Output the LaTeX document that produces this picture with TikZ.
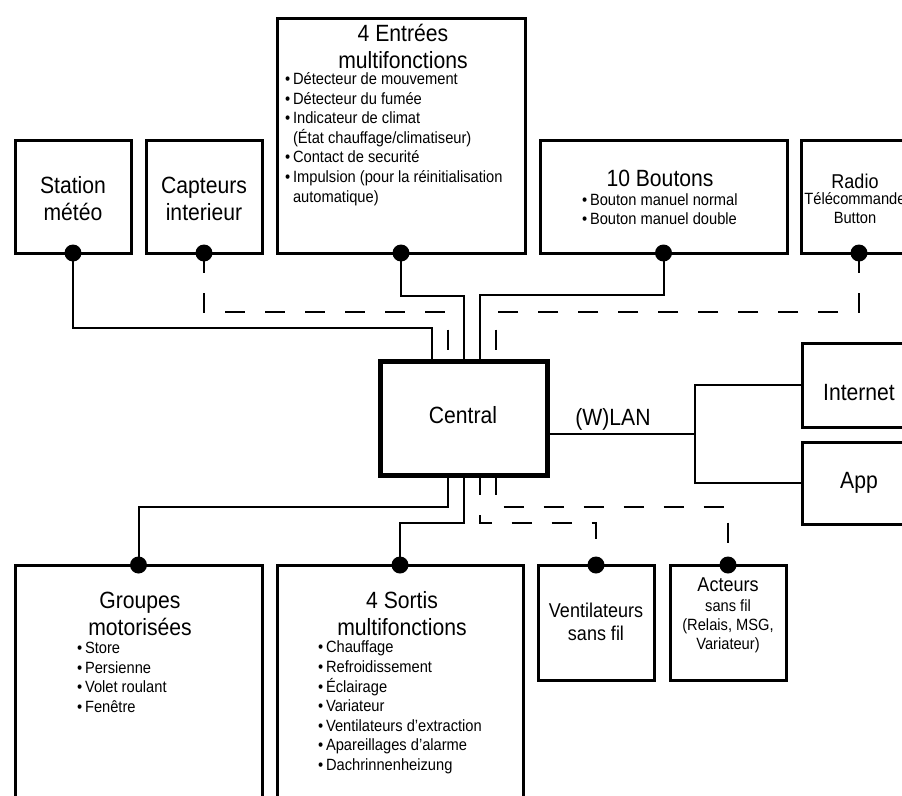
\documentclass[tikz,border=0pt]{standalone}
\usepackage{fontspec}
\setmainfont{Liberation Sans}[FakeStretch=0.9]
\usetikzlibrary{calc}

\newcommand{\blt}{\textbullet\,}
\newcommand{\bltgap}{\phantom{\textbullet\,}}

\tikzset{
  box/.style={draw, line width=3pt, inner sep=0pt, outer sep=0pt},
  link/.style={line width=2pt},
  wireless/.style={line width=2pt, dash pattern=on 20pt off 20pt},
  title/.style={align=center, inner sep=0pt, font=\fontsize{23.5}{27}\selectfont},
  midtitle/.style={align=center, inner sep=0pt, font=\fontsize{20}{23}\selectfont},
  small/.style={align=center, inner sep=0pt, font=\fontsize{16.3}{19}\selectfont},
  items/.style={align=left, inner sep=0pt, anchor=west, font=\fontsize{16.3}{19.6}\selectfont}
}

\begin{document}
\begin{tikzpicture}[x=1pt, y=-1pt]
	\useasboundingbox (0,0) rectangle (902,795);
	\clip (0,0) rectangle (902,795);

	% boxes
	\node[box, minimum width=116pt, minimum height=113pt] (sta) at (73,196.5) {};
	\node[box, minimum width=116pt, minimum height=113pt] (cap) at (204,196.5) {};
	\node[box, minimum width=248pt, minimum height=235pt] (ent) at (401,135.5) {};
	\node[box, minimum width=247pt, minimum height=113pt] (bou) at (663.5,196.5) {};
	\node[box, minimum width=116pt, minimum height=113pt] (rad) at (859,196.5) {};
	\node[box, line width=5pt, minimum width=167pt, minimum height=114pt] (cen) at (463.5,418) {};
	\node[box, minimum width=116pt, minimum height=84pt] (int) at (860,385) {};
	\node[box, minimum width=116pt, minimum height=82pt] (app) at (860,483) {};
	\node[box, minimum width=247pt, minimum height=235pt] (grp) at (138.5,682.5) {};
	\node[box, minimum width=246pt, minimum height=235pt] (sor) at (400,682.5) {};
	\node[box, minimum width=116pt, minimum height=115pt] (ven) at (596,622.5) {};
	\node[box, minimum width=116pt, minimum height=115pt] (act) at (728,622.5) {};

	% texts
	\node[title] (sta-t) at (73,198.5) {Station\\météo};
	\node[title] (cap-t) at (204,198.5) {Capteurs\\interieur};
	\node[title] (ent-t) at (403,46.5) {4 Entrées\\multifonctions};
	\node[items] (ent-l) at (285,139) {\blt Détecteur de mouvement\\
		\blt Détecteur du fumée\\
		\blt Indicateur de climat\\
		\bltgap(État chauffage/climatiseur)\\
		\blt Contact de securité\\
		\blt Impulsion (pour la réinitialisation\\
		\bltgap automatique)};
	\node[title] (bou-t) at (660,178) {10 Boutons};
	\node[items] (bou-l) at (582,209) {\blt Bouton manuel normal\\
		\blt Bouton manuel double};
	\node[midtitle] (rad-t) at (855,181) {Radio};
	\node[small] (rad-s) at (855,208) {Télécommande\\Button};
	\node[title] (cen-t) at (463,415) {Central};
	\node[title, anchor=south] (lan-t) at (613,431) {(W)LAN};
	\node[title] (int-t) at (859,393) {Internet};
	\node[title] (app-t) at (859,483) {App};
	\node[title] (grp-t) at (140,613.5) {Groupes\\motorisées};
	\node[items] (grp-l) at (77,677.5) {\blt Store\\
		\blt Persienne\\
		\blt Volet roulant\\
		\blt Fenêtre};
	\node[title] (sor-t) at (402,613.5) {4 Sortis\\multifonctions};
	\node[items] (sor-l) at (318,707.5) {\blt Chauffage\\
		\blt Refroidissement\\
		\blt Éclairage\\
		\blt Variateur\\
		\blt Ventilateurs d’extraction\\
		\blt Apareillages d’alarme\\
		\blt Dachrinnenheizung};
	\node[midtitle] (ven-t) at (596,621.5) {Ventilateurs\\sans fil};
	\node[midtitle] (act-t) at (728,585) {Acteurs};
	\node[small] (act-s) at (728,626) {sans fil\\(Relais, MSG,\\Variateur)};

	% ports on the central box
	\coordinate (cn1) at ($(cen.north)+(-32,0)$);
	\coordinate (cn2) at ($(cen.north)+(-16,0)$);
	\coordinate (cn3) at ($(cen.north)+(0,0)$);
	\coordinate (cn4) at ($(cen.north)+(16,0)$);
	\coordinate (cn5) at ($(cen.north)+(32,0)$);
	\coordinate (cs1) at ($(cen.south)+(-16,0)$);
	\coordinate (cs2) at ($(cen.south)+(0,0)$);
	\coordinate (cs3) at ($(cen.south)+(16,0)$);
	\coordinate (cs4) at ($(cen.south)+(32,0)$);
	\coordinate (wl) at ($(cen.east)+(0,16)$);
	\coordinate (fork) at (695,434);

	% connectors
	\draw[link] (sta.south) -- ++(0,75) -| (cn1);
	\draw[wireless] (cap.south) -- ++(0,59) -| (cn2);
	\draw[link] (ent.south) -- ++(0,43) -| (cn3);
	\draw[link] (bou.south) -- ++(0,42) -| (cn4);
	\draw[wireless] (rad.south) -- ++(0,59) -| (cn5);
	\draw[link] (cs1) -- ++(0,32) -| (grp.north);
	\draw[link] (cs2) -- ++(0,48) -| (sor.north);
	\draw[wireless] (cs3) -- ++(0,48) -| (ven.north);
	\draw[wireless] (cs4) -- ++(0,32) -| (act.north);
	\draw[link] (wl) -- (fork);
	\draw[link] (int.west) -| (fork) |- (app.west);

	% dots
	\foreach \n in {sta,cap,ent,bou,rad}
		\fill (\n.south) circle[radius=8.5pt];
	\foreach \n in {grp,sor,ven,act}
		\fill (\n.north) circle[radius=8.5pt];
\end{tikzpicture}
\end{document}
